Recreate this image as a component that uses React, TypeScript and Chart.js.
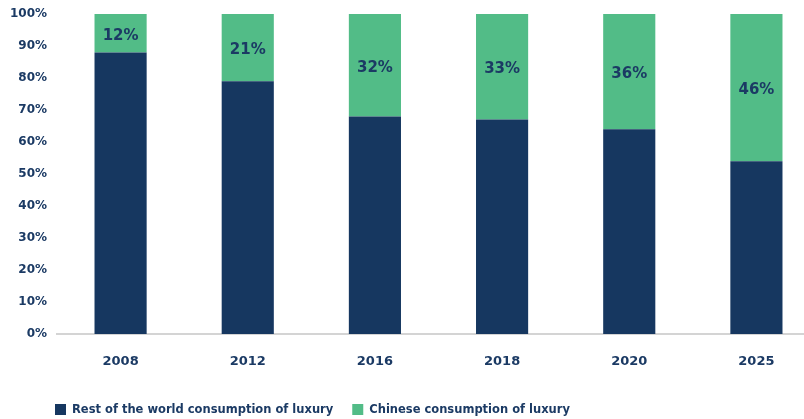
import React, { useEffect, useRef } from "react";
import { Chart, registerables } from "chart.js";

Chart.register(...registerables);

const years = ["2008", "2012", "2016", "2018", "2020", "2025"];
const restOfWorld = [88, 79, 68, 67, 64, 54];
const chinese = [12, 21, 32, 33, 36, 46];
const yTicks = [0, 10, 20, 30, 40, 50, 60, 70, 80, 90, 100];

const NAVY = "#163760";
const GREEN = "#52bc87";
const TEXT = "#1b3a64";
const FONT = "'DejaVu Sans', sans-serif";

const labelsPlugin = {
  id: "segLabels",
  afterDatasetsDraw(chart: any) {
    const ctx = chart.ctx;
    const meta = chart.getDatasetMeta(1);
    ctx.save();
    ctx.font = `bold 15px ${FONT}`;
    ctx.fillStyle = TEXT;
    ctx.textAlign = "center";
    ctx.textBaseline = "middle";
    meta.data.forEach((el: any, i: number) => {
      const p = el.getProps(["x", "y", "base"], true);
      ctx.fillText(`${chinese[i]}%`, p.x, (p.y + p.base) / 2 + 2.5);
    });
    ctx.restore();
  },
};

const legendPlugin = {
  id: "customLegend",
  afterDraw(chart: any) {
    const ctx = chart.ctx;
    ctx.save();
    ctx.font = `bold 11.5px ${FONT}`;
    ctx.textBaseline = "middle";
    ctx.textAlign = "left";
    let x = 55;
    const y = 404;
    chart.data.datasets.forEach((ds: any) => {
      ctx.fillStyle = ds.backgroundColor;
      ctx.fillRect(x, y, 11, 11);
      ctx.fillStyle = TEXT;
      ctx.fillText(ds.label, x + 17, y + 6.5);
      x += 17 + ctx.measureText(ds.label).width + 19;
    });
    ctx.restore();
  },
};

export default function App() {
  const ref = useRef<HTMLCanvasElement>(null);
  useEffect(() => {
    const chart = new Chart(ref.current!, {
      type: "bar",
      data: {
        labels: years,
        datasets: [
          {
            label: "Rest of the world consumption of luxury",
            data: restOfWorld,
            backgroundColor: NAVY,
            categoryPercentage: 1,
            barPercentage: 0.41,
          },
          {
            label: "Chinese consumption of luxury",
            data: chinese,
            backgroundColor: GREEN,
            categoryPercentage: 1,
            barPercentage: 0.41,
          },
        ],
      },
      options: {
        responsive: false,
        animation: false,
        layout: { padding: { top: 14, bottom: 35, left: 0, right: 0 } },
        plugins: { legend: { display: false }, tooltip: { enabled: false } },
        scales: {
          x: {
            stacked: true,
            grid: { display: false, drawTicks: false },
            border: { display: true, color: "#d4d4d4", width: 2 },
            ticks: {
              color: TEXT,
              font: { family: FONT, size: 13, weight: "bold" },
              padding: 20,
            },
            afterFit: (s: any) => {
              s.height = 50;
              s.paddingLeft = 0;
              s.paddingRight = 0;
            },
          },
          y: {
            stacked: true,
            min: 0,
            max: 100,
            grid: { display: false, drawTicks: false },
            border: { display: false },
            afterBuildTicks: (s: any) => {
              s.ticks = yTicks.map((v) => ({ value: v }));
            },
            ticks: {
              color: TEXT,
              font: { family: FONT, size: 12, weight: "bold" },
              padding: 10,
              callback: (v: any) => `${v}%`,
            },
            afterFit: (s: any) => {
              s.width = 57;
              s.paddingTop = 0;
              s.paddingBottom = 0;
            },
          },
        },
      },
      plugins: [labelsPlugin, legendPlugin],
    });
    return () => chart.destroy();
  }, []);
  return (
    <div style={{ position: "fixed", left: 0, top: 0, width: 804, height: 419, overflow: "hidden", background: "#fff" }}>
      <canvas ref={ref} width={820} height={419} style={{ width: 820, height: 419, display: "block" }} />
    </div>
  );
}
